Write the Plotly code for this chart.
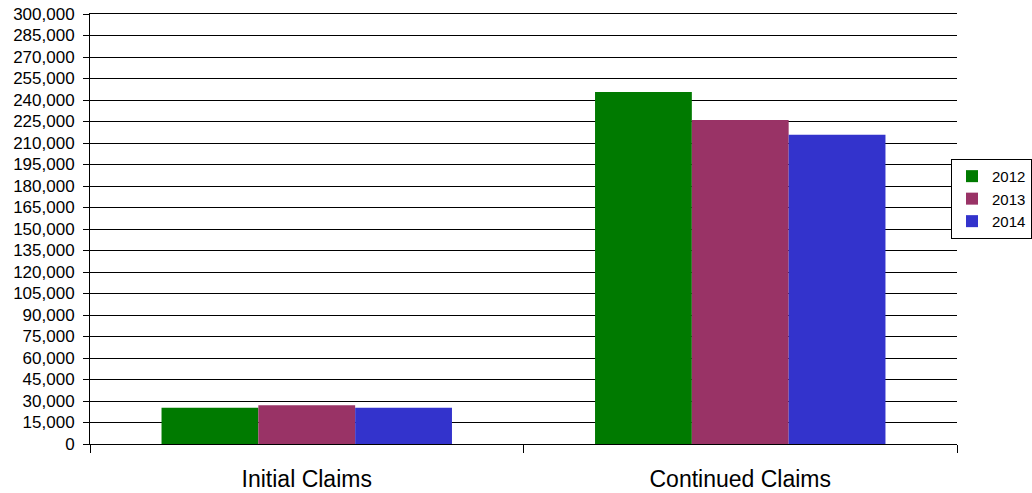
import plotly.graph_objects as go

categories = ["Initial Claims", "Continued Claims"]
years = ["2012", "2013", "2014"]
values_2012 = [25300, 245600]
values_2013 = [27000, 226000]
values_2014 = [25300, 215800]
colors = ["#007a00", "#993366", "#3333cc"]
tick_vals = list(range(0, 300001, 15000))
tick_text = [f"{v:,}" for v in tick_vals]

fig = go.Figure()
for name, vals, col in zip(years, [values_2012, values_2013, values_2014], colors):
    fig.add_trace(go.Bar(x=categories, y=vals, name=name, marker_color=col,
                         marker_line_width=0))

fig.update_layout(
    width=1032, height=493,
    margin=dict(l=90, r=75, t=14, b=49, autoexpand=False),
    paper_bgcolor="white", plot_bgcolor="white",
    barmode="group", bargap=0.33, bargroupgap=0,
    font=dict(family="Liberation Sans, Arial", color="black"),
    showlegend=True,
    legend=dict(xref="container", x=1.0, y=0.57, xanchor="right", yanchor="middle",
                bordercolor="black", borderwidth=1, bgcolor="white",
                font=dict(size=15), itemwidth=30, tracegroupgap=0),
)
fig.update_yaxes(range=[0, 300000], tickvals=tick_vals, ticktext=tick_text,
                 showgrid=True, gridcolor="black", gridwidth=1,
                 showline=True, linecolor="black", linewidth=1,
                 ticks="outside", ticklen=6, tickcolor="black",
                 ticklabelstandoff=5, automargin=False,
                 tickfont=dict(size=17), zeroline=False)
fig.update_xaxes(showline=True, linecolor="black", linewidth=1, mirror=True,
                 ticks="outside", ticklen=8, tickcolor="black",
                 tickson="boundaries", tickfont=dict(size=23),
                 ticklabelstandoff=14, automargin=False)

fig.write_html("out.html", config={"displayModeBar": False},
               post_script="document.body.style.margin='0';document.body.style.overflow='hidden';")
